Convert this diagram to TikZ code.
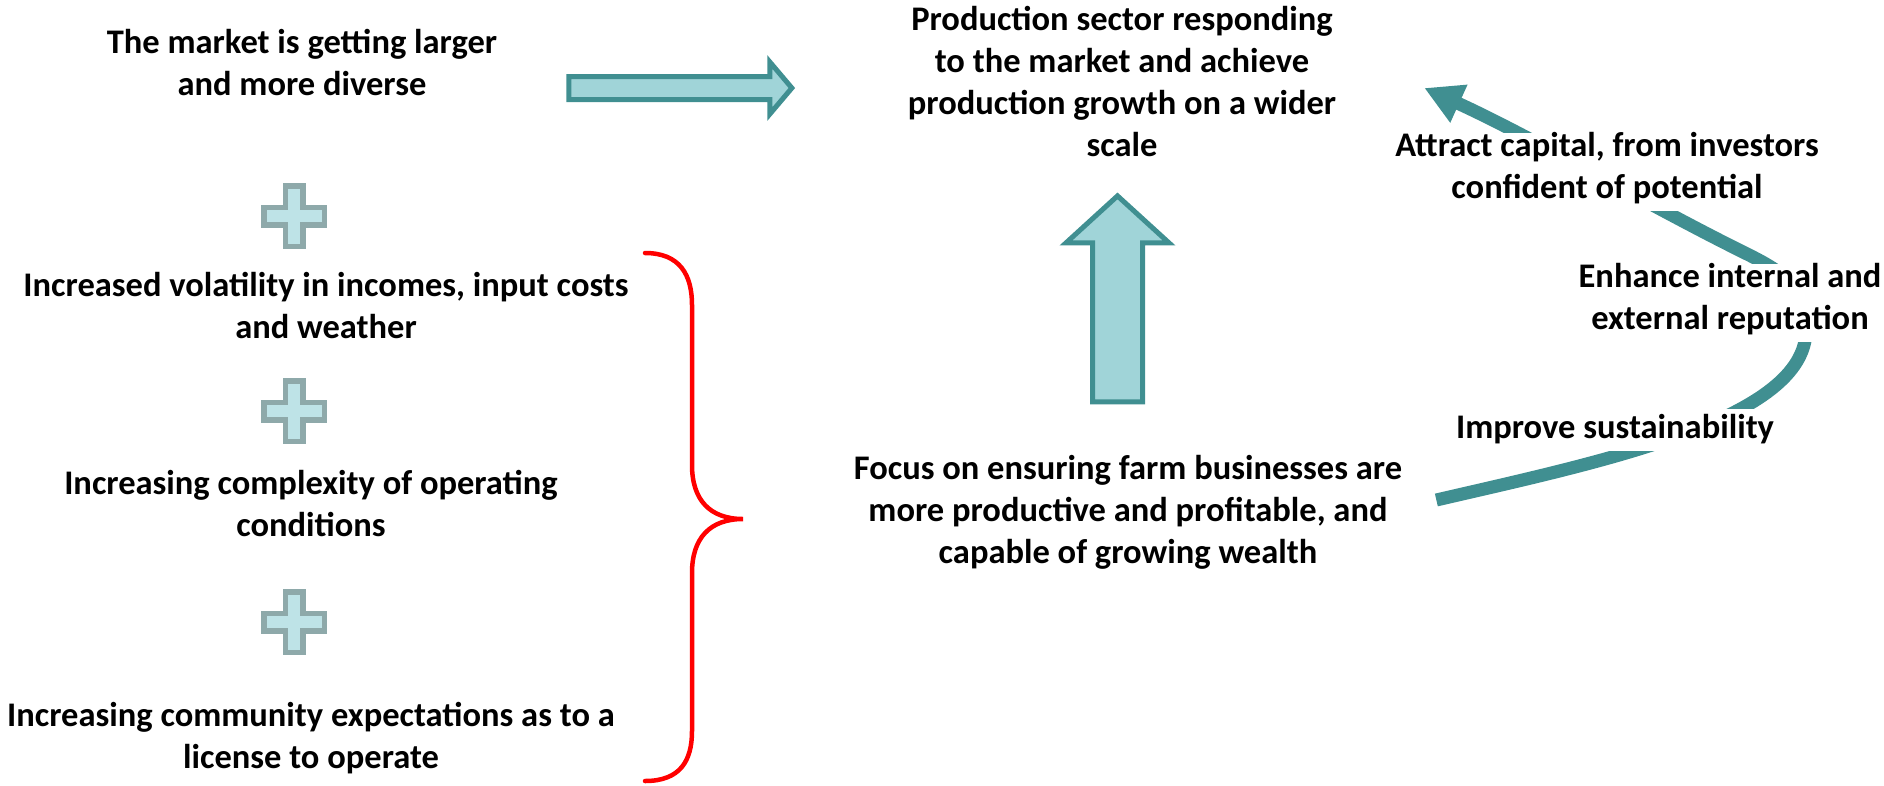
\documentclass[tikz,border=0pt]{standalone}
\usepackage{fontspec}
\setmainfont{Carlito}
\usepackage{xcolor}
\definecolor{tealdark}{HTML}{408F91}
\definecolor{teallight}{HTML}{A0D4D8}
\definecolor{plusline}{HTML}{8EA9AA}
\definecolor{plusfill}{HTML}{BEE3E7}
\usepackage{tikz}
\usetikzlibrary{positioning,calc,arrows.meta,backgrounds}

\begin{document}
\begin{tikzpicture}[x=1pt,y=-1pt,
  lbl/.style={font=\fontsize{34.5}{42}\selectfont\bfseries,align=center,inner sep=0pt,fill=white,
    execute at begin node=\strut,execute at end node=\strut},
  blockarrow/.style={draw=tealdark,fill=teallight,line width=5pt,line join=miter},
  plussign/.style={draw=plusline,fill=plusfill,line width=5.5pt,line join=miter},
  cyclearrow/.style={draw=tealdark,line width=13pt,-{Triangle[length=38pt,width=39pt]}}]
  \useasboundingbox (0,0) rectangle (1884,785);
  \node[lbl] (market) at (302,69) {The market is getting larger\\and more diverse};
  \node[lbl] (vol) at (326,312) {Increased volatility in incomes, input costs\\and weather};
  \node[lbl] (cplx) at (311,510) {Increasing complexity of operating\\conditions};
  \node[lbl] (comm) at (311,742) {Increasing community expectations as to a\\license to operate};
  \node[lbl] (prod) at (1122,88) {Production sector responding\\to the market and achieve\\production growth on a wider\\scale};
  \node[lbl] (focus) at (1128,516) {Focus on ensuring farm businesses are\\more productive and profitable, and\\capable of growing wealth};
  \node[lbl] (attract) at (1607,172) {Attract capital, from investors\\confident of potential};
  \node[lbl] (enhance) at (1730,303) {Enhance internal and\\external reputation};
  \node[lbl] (improve) at (1615,430) {Improve sustainability};
  \draw[blockarrow] ($(market.east)+(71.5,7.5)$) -- ++(201,0) -- ++(0,-14.5) -- ++(22,26) -- ++(-22,26) -- ++(0,-14.5) -- ++(-201,0) -- cycle;
  \draw[blockarrow] ($(focus.north)+(-35.5,-53.5)$) -- ++(0,-159) -- ++(-26.5,0) -- ++(51.5,-47) -- ++(51.5,47) -- ++(-26.5,0) -- ++(0,159) -- cycle;
  \foreach \py in {216,411,622}
    \draw[plussign] (285.25,\py-30.25) -- ++(17.5,0) -- ++(0,21.5) -- ++(21.5,0) -- ++(0,17.5) -- ++(-21.5,0) -- ++(0,21.5) -- ++(-17.5,0) -- ++(0,-21.5) -- ++(-21.5,0) -- ++(0,-17.5) -- ++(21.5,0) -- cycle;
  \draw[red,line width=4.5pt,line cap=round] (645,253) .. controls (680,253) and (692,275) .. (692,305) -- (692,465) .. controls (692,500) and (710,519) .. (743,519) .. controls (710,519) and (692,538) .. (692,573) -- (692,731) .. controls (692,761) and (680,781) .. (645,781);
  \begin{pgfonlayer}{background}
    \draw[cyclearrow] ($(focus.east)+(34,-16)$) .. controls (1600,462) and (1806,420) .. (1806,330) .. controls (1806,290) and (1790,275) .. (1745,253) .. controls (1650,206) and (1530,136) .. ($(prod.east)+(88,0)$);
  \end{pgfonlayer}
\end{tikzpicture}
\end{document}
